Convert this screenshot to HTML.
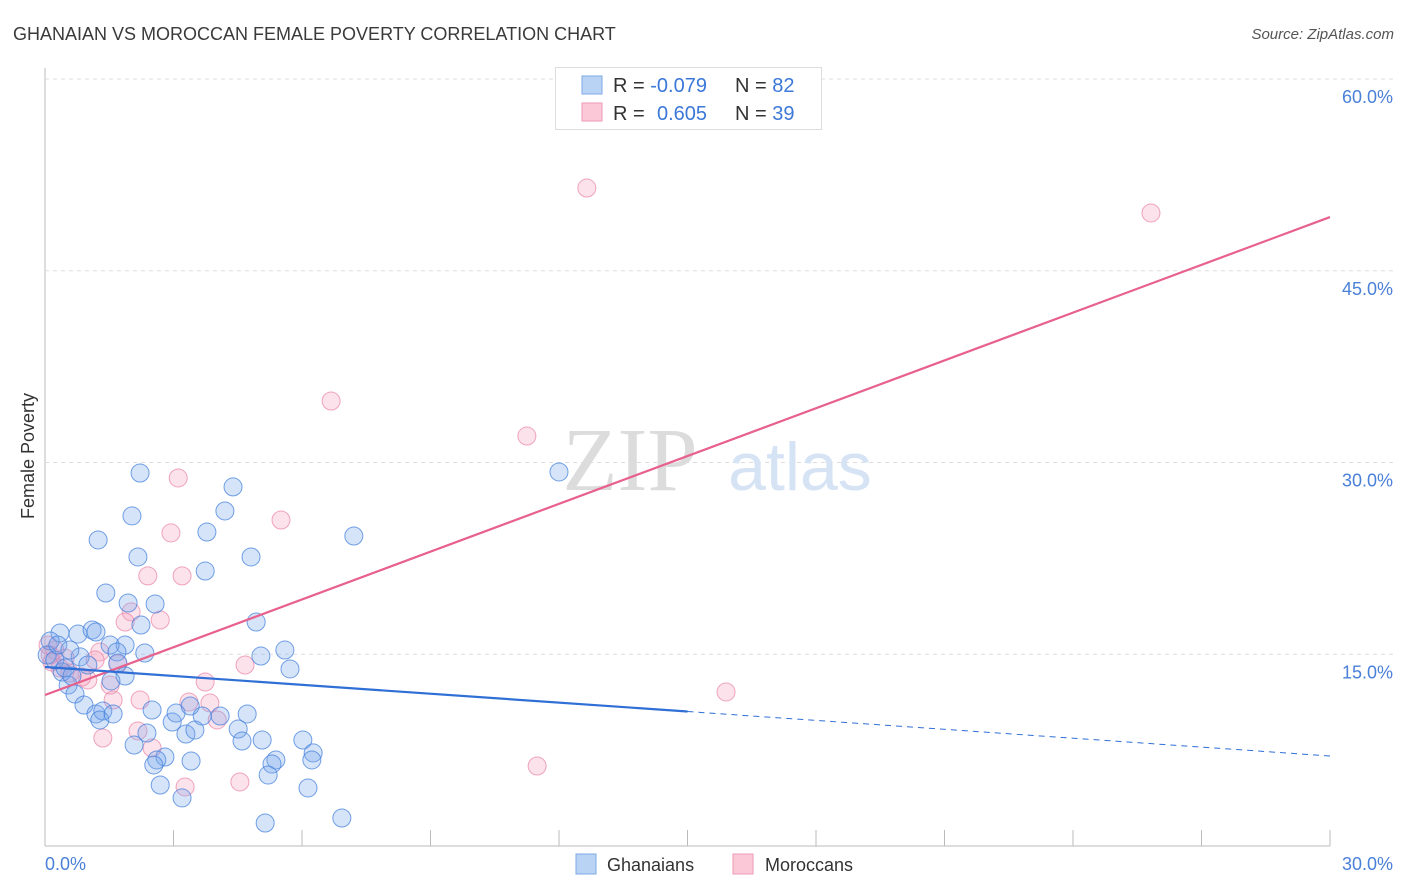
<!DOCTYPE html>
<html><head><meta charset="utf-8"><style>
body{margin:0;background:#fff;font-family:"Liberation Sans",sans-serif}
svg{display:block}
</style></head><body>
<svg id="c" width="1406" height="892" xmlns="http://www.w3.org/2000/svg">
<text x="13" y="40" font-size="18" fill="#3a3a3a">GHANAIAN VS MOROCCAN FEMALE POVERTY CORRELATION CHART</text>
<text x="1394" y="39" font-size="15" fill="#555" font-style="italic" text-anchor="end">Source: ZipAtlas.com</text>
<text x="34" y="456" font-size="18" fill="#333" text-anchor="middle" transform="rotate(-90 34 456)">Female Poverty</text>
<g id="grid"></g>
<text x="630" y="490" font-size="90" fill="#dcdcdc" font-family="Liberation Serif,serif" text-anchor="middle">ZIP</text>
<text x="800" y="490" font-size="68" fill="#d5e3f5" text-anchor="middle">atlas</text>
<g id="pts"></g>
<g id="lines"></g>
<g>
<rect x="555.5" y="67.5" width="266" height="62" fill="#fff" stroke="#ddd"/>
<rect x="582" y="76" width="20" height="18" fill="#b9d3f5" stroke="#7fa9e6"/>
<rect x="582" y="103" width="20" height="18" fill="#fac8d7" stroke="#ee9ab5"/>
<text x="613" y="92" font-size="20" fill="#333">R = <tspan fill="#3b78d8">-0.079</tspan></text>
<text x="735" y="92" font-size="20" fill="#333">N = <tspan fill="#3b78d8">82</tspan></text>
<text x="613" y="120" font-size="20" fill="#333">R = <tspan fill="#3b78d8" x="657">0.605</tspan></text>
<text x="735" y="120" font-size="20" fill="#333">N = <tspan fill="#3b78d8">39</tspan></text>
</g>
<g>
<rect x="576" y="854" width="20" height="20" fill="#b9d3f5" stroke="#7fa9e6"/>
<text x="607" y="871" font-size="18" fill="#333">Ghanaians</text>
<rect x="733" y="854" width="20" height="20" fill="#fac8d7" stroke="#ee9ab5"/>
<text x="765" y="871" font-size="18" fill="#333">Moroccans</text>
</g>
</svg>
<script>
const xTicks=[0,3,6,9,12,15,18,21,24,27,30];
const yTicks=[15,30,45,60];
const blueX=[2.22,1.24,2.03,4.39,4.20,3.78,2.17,4.81,3.74,7.21,12.00,1.42,1.94,2.57,2.24,4.93,0.35,0.77,1.10,1.19,1.87,1.52,1.68,2.33,5.60,5.04,5.72,0.12,0.05,0.82,1.00,1.70,1.87,1.54,0.40,0.54,0.70,0.91,1.19,1.35,1.28,1.59,2.50,2.97,3.06,3.39,3.67,4.09,4.72,4.51,2.38,3.29,3.50,2.08,2.80,2.61,2.54,3.41,4.60,5.07,6.02,6.26,6.23,5.39,5.30,5.21,2.69,3.20,5.14,6.14,6.93,0.23,0.47,0.63,0.30,0.58];
const blueY=[29.18,23.94,25.82,28.09,26.21,24.56,22.61,22.61,21.51,24.25,29.26,19.79,19.01,18.93,17.29,17.52,16.66,16.58,16.90,16.74,15.72,15.72,15.18,15.10,15.33,14.86,13.85,16.04,14.94,14.79,14.16,14.32,13.30,12.91,13.61,12.59,11.89,11.03,10.33,10.56,9.86,10.33,10.64,9.70,10.40,10.95,10.17,10.17,10.33,9.15,8.84,8.76,9.07,7.90,6.96,6.73,6.34,6.65,8.21,8.29,8.29,7.28,6.73,6.73,6.41,5.55,4.77,3.76,1.80,4.54,2.19,14.55,13.92,13.30,15.72,15.33];
const pinkX=[12.65,25.82,6.68,11.25,3.11,5.51,2.94,3.20,2.40,2.69,2.01,1.87,3.74,4.67,15.90,11.49,1.59,2.22,3.36,3.85,4.02,1.35,2.17,2.50,3.27,4.55,1.28,1.00,1.52,0.23,0.16,0.35,0.58,0.86,1.17,1.70,0.07,0.12,0.47];
const pinkY=[51.47,49.52,34.81,32.07,28.79,25.50,24.49,21.13,21.13,17.68,18.31,17.52,12.83,14.16,12.05,6.26,11.42,11.42,11.26,11.19,9.86,8.45,9.00,7.67,4.62,5.01,15.18,12.99,12.59,15.33,14.39,13.92,13.53,13.22,14.55,14.24,15.72,14.94,14.71];
const blueTrend=[14.0,7.04];
const pinkTrend=[11.81,49.2];
const NS='http://www.w3.org/2000/svg';
const X=v=>45+v/30*1285, Y=v=>846-v/60*767;
function mk(t,a,p){const e=document.createElementNS(NS,t);for(const k in a)e.setAttribute(k,a[k]);p.appendChild(e);return e;}
const g=document.getElementById('grid');
const ax=mk('line',{x1:45,y1:68,x2:45,y2:846,stroke:'#bbb'},g);


const bx=mk('line',{x1:45,y1:846,x2:1330,y2:846,stroke:'#bbb'},g);


yTicks.forEach(t=>{
 const l=mk('line',{x1:45,y1:Y(t),x2:1394,y2:Y(t),stroke:'#ddd','stroke-dasharray':'4 4'},g);
 
 
 const tx=mk('text',{x:1393,y:Y(t)+24,'font-size':18,fill:'#4a80d8','text-anchor':'end'},g);
 tx.textContent=t.toFixed(1)+'%';
 
 
});
xTicks.forEach(t=>{
 const l=mk('line',{x1:X(t),y1:830,x2:X(t),y2:846,stroke:'#bbb'},g);
 
 
});
[[0,'start',45],[30,'end',1393]].forEach(([t,a,x])=>{
 const tx=mk('text',{x:x,y:870,'font-size':18,fill:'#4a80d8','text-anchor':a},g);
 tx.textContent=t.toFixed(1)+'%';
 
 
});
const p=document.getElementById('pts');
pinkX.forEach((v,i)=>{
 const c=mk('circle',{cx:X(v),cy:Y(pinkY[i]),r:9,fill:'rgba(244,160,190,0.3)',stroke:'rgba(232,130,165,0.7)','stroke-width':1},p);
 
 
});
blueX.forEach((v,i)=>{
 const c=mk('circle',{cx:X(v),cy:Y(blueY[i]),r:9,fill:'rgba(120,165,235,0.3)',stroke:'rgba(70,130,220,0.75)','stroke-width':1},p);
 
 
});
const L=document.getElementById('lines');
const bAt=x=>blueTrend[0]+(blueTrend[1]-blueTrend[0])*x/30;
const pl=mk('line',{x1:X(0),y1:Y(pinkTrend[0]),x2:X(30),y2:Y(pinkTrend[1]),stroke:'#e8608c','stroke-width':2.2},L);


const bl=mk('line',{x1:X(0),y1:Y(bAt(0)),x2:X(15),y2:Y(bAt(15)),stroke:'#2f6fd6','stroke-width':2.2},L);


const bd=mk('line',{x1:X(15),y1:Y(bAt(15)),x2:X(30),y2:Y(bAt(30)),stroke:'#2f6fd6','stroke-width':1,'stroke-dasharray':'6 5'},L);


</script>
</body></html>
